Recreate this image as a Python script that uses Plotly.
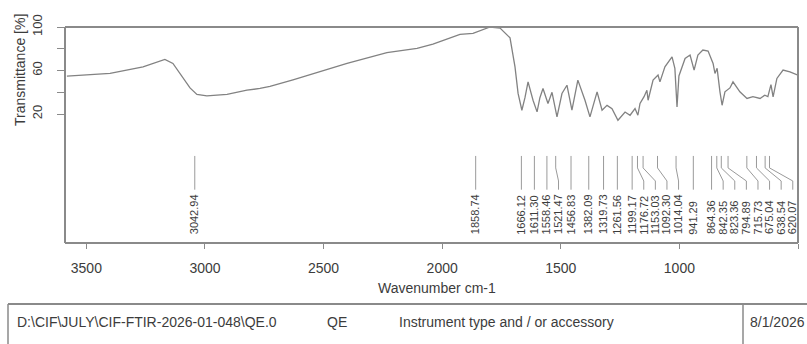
import plotly.graph_objects as go

# IR spectrum, % transmittance vs wavenumber (cm-1)
wavenumber = [3582, 3400, 3261, 3169, 3135, 3097, 3063, 3034, 2992, 2907, 2823,
              2768, 2726, 2629, 2515, 2401, 2233, 2106, 2039, 1925, 1870, 1798,
              1756, 1714, 1693, 1680, 1664, 1651, 1638, 1617, 1600, 1588, 1575,
              1554, 1537, 1516, 1495, 1474, 1453, 1428, 1398, 1377, 1347, 1326,
              1305, 1284, 1259, 1229, 1208, 1187, 1175, 1166, 1149, 1137, 1132,
              1111, 1090, 1082, 1061, 1031, 1019, 1010, 1002, 976, 955, 938, 922,
              901, 879, 858, 850, 841, 829, 820, 808, 787, 774, 745, 715, 690,
              660, 640, 627, 614, 605, 589, 563, 534, 500]
transmittance = [54.8, 57.3, 63.4, 70.2, 66.5, 54.2, 44.0, 38.0, 36.7, 38.0, 41.9,
                 43.5, 45.5, 51.5, 58.8, 66.5, 76.5, 80.3, 84.3, 93.3, 94.2, 100.0,
                 99.0, 90.0, 63.4, 39.0, 23.5, 35.0, 49.6, 32.7, 22.0, 35.0, 43.5,
                 29.7, 40.0, 17.4, 38.9, 46.5, 23.5, 51.2, 32.7, 17.4, 40.4, 23.5,
                 28.0, 25.0, 14.3, 21.9, 18.9, 25.0, 18.9, 29.7, 36.0, 41.9, 32.7,
                 51.2, 55.8, 49.6, 63.4, 72.6, 62.0, 26.5, 55.0, 71.1, 74.2, 60.4, 74.2,
                 78.8, 77.9, 66.5, 57.3, 62.0, 40.4, 28.1, 40.4, 44.0, 49.6, 40.4, 34.3, 36.0,
                 34.3, 37.3, 36.0, 47.0, 35.8, 52.7, 60.4, 58.8, 55.8]

# Picked peaks
peaks = [3042.94, 1858.74, 1666.12, 1611.30, 1558.46, 1521.47, 1456.83, 1382.09,
         1319.73, 1261.56, 1199.17, 1176.72, 1153.03, 1092.30, 1014.04, 941.29,
         864.36, 842.35, 823.36, 794.89, 715.73, 675.04, 638.54, 620.07]
peak_labels = [f"{p:.2f}" for p in peaks]

x_ticks = [3500, 3000, 2500, 2000, 1500, 1000, 500]
y_ticks = [20, 40, 60, 80, 100]
y_ticktext = ["20", "", "60", "", "100"]

footer_file = "D:\\CIF\\JULY\\CIF-FTIR-2026-01-048\\QE.0"
footer_sample = "QE"
footer_instrument = "Instrument type and / or accessory"
footer_date = "8/1/2026"

W, H = 807, 344
L, R, T, B = 65, 9, 27, 101
PW, PH = W - L - R, H - T - B
X_RANGE = [3590, 500]
Y_RANGE = [-98.5, 100]

FONT = "Liberation Sans, Arial, sans-serif"
TXT = "#3c3c3c"
FRAME = "#8a8a8a"


def px_x(px):
    return (px - L) / PW


def px_y(py):
    return (H - B - py) / PH


# Spread label positions so neighbouring labels keep a minimum gap
wn_per_px = (X_RANGE[0] - X_RANGE[1]) / PW
gap = 11.6 * wn_per_px
label_x = []
for i, p in enumerate(peaks):
    lx = p if i == 0 else min(p, label_x[-1] - gap)
    label_x.append(lx)

Y_TOP, Y_B1, Y_B2, Y_END, Y_LAB = -18.5, -29.5, -41.5, -49.5, -92.5
lead_x, lead_y = [], []
for p, lx in zip(peaks, label_x):
    lead_x += [p, p, lx, lx, None]
    lead_y += [Y_TOP, Y_B1, Y_B2, Y_END, None]

fig = go.Figure()
fig.add_trace(go.Scatter(x=wavenumber, y=transmittance, mode="lines",
                         line=dict(color="#828282", width=1.3),
                         hoverinfo="skip", showlegend=False))
fig.add_trace(go.Scatter(x=lead_x, y=lead_y, mode="lines",
                         line=dict(color="#9a9a9a", width=1),
                         hoverinfo="skip", showlegend=False))

annotations = []
for lx, txt in zip(label_x, peak_labels):
    annotations.append(dict(x=lx, y=Y_LAB, xref="x", yref="y", text=txt,
                            textangle=-90, showarrow=False, xanchor="center",
                            yanchor="bottom", font=dict(family=FONT, size=11, color=TXT)))


def paper_text(px, py, text, xanchor="center", angle=0):
    return dict(x=px_x(px), y=px_y(py), xref="paper", yref="paper", text=text,
                textangle=angle, showarrow=False, xanchor=xanchor, yanchor="middle",
                font=dict(family=FONT, size=14, color=TXT))


annotations += [
    paper_text(20, 70, "Transmittance [%]", angle=-90),
    paper_text(437, 288, "Wavenumber cm-1"),
    paper_text(15, 322, footer_file, xanchor="left"),
    paper_text(325, 322, footer_sample, xanchor="left"),
    paper_text(397, 322, footer_instrument, xanchor="left"),
    paper_text(748, 322, footer_date, xanchor="left"),
]

shapes = [
    # plot frame
    dict(type="line", xref="paper", yref="paper", x0=0, x1=1, y0=1, y1=1,
         line=dict(color=FRAME, width=2)),
    dict(type="line", xref="paper", yref="paper", x0=1, x1=1, y0=1, y1=0,
         line=dict(color=FRAME, width=2)),
    dict(type="line", xref="paper", yref="paper", x0=0, x1=0, y0=1, y1=0,
         line=dict(color=FRAME, width=2)),
    dict(type="line", xref="paper", yref="paper", x0=0, x1=1, y0=0, y1=0,
         line=dict(color=FRAME, width=2)),
    # footer box
    dict(type="line", xref="paper", yref="paper", x0=px_x(8), x1=px_x(810),
         y0=px_y(304), y1=px_y(304), line=dict(color=FRAME, width=2)),
    dict(type="line", xref="paper", yref="paper", x0=px_x(8), x1=px_x(8),
         y0=px_y(304), y1=px_y(350), line=dict(color=FRAME, width=1.5)),
    dict(type="line", xref="paper", yref="paper", x0=px_x(743), x1=px_x(743),
         y0=px_y(304), y1=px_y(350), line=dict(color=FRAME, width=1.5)),
]

fig.update_layout(
    width=W, height=H,
    margin=dict(l=L, r=R, t=T, b=B),
    paper_bgcolor="white", plot_bgcolor="white",
    showlegend=False,
    annotations=annotations,
    shapes=shapes,
    xaxis=dict(range=X_RANGE, tickvals=x_ticks, ticks="outside", ticklen=5,
               tickcolor=FRAME, showgrid=False, zeroline=False, showline=False,
               ticklabelstandoff=7,
               tickfont=dict(family=FONT, size=14, color=TXT)),
    yaxis=dict(range=Y_RANGE, tickvals=y_ticks, ticktext=y_ticktext,
               ticks="outside", ticklen=7, tickcolor=FRAME, tickangle=-90,
               showgrid=False, zeroline=False, showline=False,
               ticklabelstandoff=10,
               tickfont=dict(family=FONT, size=13, color=TXT)),
)

fig.write_html("out.html")
